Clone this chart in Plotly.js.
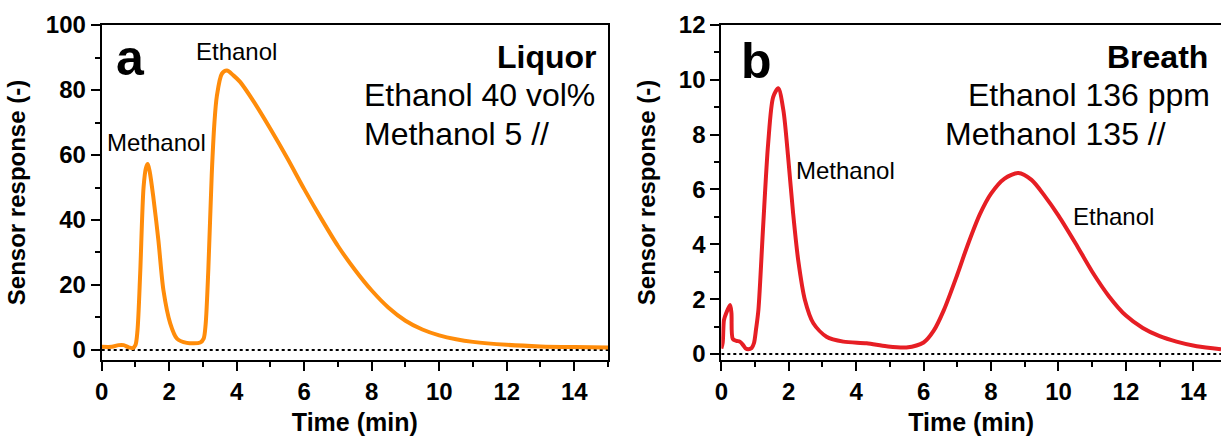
<!DOCTYPE html>
<html>
<head>
<meta charset="utf-8">
<script src="https://cdn.plot.ly/plotly-3.0.1.min.js"></script>
<style>html,body{margin:0;padding:0;background:#fff;}</style>
</head>
<body>
<div id="chart" style="width:1221px;height:436px;"></div>
<script>
// Panel a: Liquor
const liquorTime = [0, 0.3, 0.5, 0.65, 0.8, 0.92, 1.0, 1.06, 1.14, 1.24, 1.31, 1.365, 1.42, 1.53, 1.68, 1.83, 2.03, 2.23, 2.52, 2.92, 3.02, 3.08, 3.16, 3.26, 3.34, 3.41, 3.56, 3.71, 3.9, 4.1, 4.5, 5.0, 5.5, 6.0, 6.5, 7.0, 7.5, 8.0, 8.5, 9.0, 9.5, 10.0, 10.5, 11.0, 12.0, 13.0, 14.0, 15.0];
const liquorResp = [1.0, 1.0, 1.5, 1.5, 0.8, 0.6, 1.5, 6, 23.5, 50, 56, 57.2, 55, 47, 33.7, 18.3, 8.2, 3.5, 2.2, 2.3, 3.5, 8, 25, 54, 70, 78, 85, 86, 84.5, 82.5, 76.5, 68, 59, 49.5, 40.5, 32, 24.7, 18.3, 13, 9.0, 6.3, 4.5, 3.3, 2.5, 1.6, 1.1, 0.9, 0.8];

// Panel b: Breath
const breathTime = [0, 0.04, 0.08, 0.15, 0.26, 0.30, 0.34, 0.45, 0.55, 0.65, 0.72, 0.80, 0.90, 0.97, 1.03, 1.10, 1.24, 1.39, 1.54, 1.69, 1.84, 1.99, 2.13, 2.28, 2.48, 2.73, 3.12, 3.62, 4.31, 4.9, 5.49, 6.0, 6.3, 6.6, 7.0, 7.3, 7.67, 8.0, 8.4, 8.81, 9.2, 9.6, 10.0, 10.5, 11.0, 11.5, 12.0, 12.5, 13.0, 13.5, 14.1, 14.82];
const breathResp = [0.2, 0.4, 1.24, 1.5, 1.79, 1.5, 0.55, 0.48, 0.45, 0.32, 0.2, 0.17, 0.22, 0.4, 0.9, 1.6, 4.64, 7.68, 9.38, 9.69, 8.9, 7.07, 5.13, 3.43, 1.97, 1.12, 0.63, 0.45, 0.39, 0.28, 0.24, 0.42, 0.85, 1.6, 2.9, 3.95, 5.1, 5.85, 6.4, 6.6, 6.35, 5.75, 5.05, 4.05, 3.0, 2.1, 1.4, 0.95, 0.65, 0.45, 0.28, 0.17];

const xTitle = "Time (min)";
const yTitle = "Sensor response (-)";

const W = 1221, H = 436, T = 25, B = 76;
const px = v => v / W;
const py = v => (H - B - v) / (H - T - B);

const FONT = "Liberation Sans, Arial, sans-serif";
const titleFont = {family: FONT, size: 24, color: "#000", weight: "bold"};

function axisBase(extra) {
  return Object.assign({
    showline: true, linewidth: 2, linecolor: "#000",
    ticks: "outside", ticklen: 9, tickwidth: 2, tickcolor: "#000",
    showgrid: false, zeroline: false,
    tickfont: {family: FONT, size: 24, color: "#000", weight: "bold"},
    minor: {ticks: "outside", ticklen: 5, tickwidth: 2, tickcolor: "#000", showgrid: false}
  }, extra);
}

const traces = [
  {x: liquorTime, y: liquorResp, xaxis: "x", yaxis: "y", mode: "lines",
   line: {color: "#ff8c0a", width: 4, shape: "spline", smoothing: 0.8}, hoverinfo: "skip"},
  {x: breathTime, y: breathResp, xaxis: "x2", yaxis: "y2", mode: "lines",
   line: {color: "#e61e24", width: 4, shape: "spline", smoothing: 0.8}, hoverinfo: "skip"}
];

const xa = axisBase({domain: [px(101.7), px(608)], range: [0, 15], tick0: 0, dtick: 2, anchor: "y", mirror: true});
xa.minor.dtick = 1;
xa.title = {text: xTitle, standoff: 12, font: Object.assign({}, titleFont, {size: 25})};
const ya = axisBase({domain: [0, 1], range: [-3.08, 100], tick0: 0, dtick: 20, anchor: "x", mirror: true});
ya.minor.dtick = 10;
ya.title = {text: yTitle, standoff: 13, font: titleFont};
const xb = axisBase({domain: [px(721.3), 1], range: [0, 14.82], tick0: 0, dtick: 2, anchor: "y2", mirror: true});
xb.minor.dtick = 1;
xb.title = {text: xTitle, standoff: 12, font: Object.assign({}, titleFont, {size: 25})};
const yb = axisBase({domain: [0, 1], range: [-0.22, 12], tick0: 0, dtick: 2, anchor: "x2", mirror: false});
yb.minor.dtick = 1;
yb.title = {text: yTitle, standoff: 16, font: titleFont};

function ann(text, x, y, size, bold, xanchor) {
  return {text: text, xref: "paper", yref: "paper", x: px(x), y: py(y),
    xanchor: xanchor || "center", yanchor: "middle", showarrow: false,
    font: {family: FONT, size: size, color: "#000", weight: bold ? "bold" : "normal"}};
}

const annotations = [
  ann("a", 114, 58, 50, true, "left"),
  ann("Liquor", 599, 57, 32, true, "right"),
  ann("Ethanol 40 vol%", 362, 95, 32, false, "left"),
  ann("Methanol 5 //", 362, 134, 32, false, "left"),
  ann("Methanol", 156.5, 142, 24, false, "center"),
  ann("Ethanol", 236, 51, 24, false, "center"),
  ann("b", 739, 61, 50, true, "left"),
  ann("Breath", 1210, 57, 32, true, "right"),
  ann("Ethanol 136 ppm", 966, 95, 32, false, "left"),
  ann("Methanol 135 //", 943, 134, 32, false, "left"),
  ann("Methanol", 794, 171, 24, false, "left"),
  ann("Ethanol", 1071, 216, 24, false, "left")
];

const shapes = [
  {type: "line", xref: "x", yref: "y", x0: 0, x1: 15, y0: 0, y1: 0, layer: "below",
   line: {color: "#000", width: 2, dash: "dot"}},
  {type: "line", xref: "x2", yref: "y2", x0: 0, x1: 14.82, y0: 0, y1: 0, layer: "below",
   line: {color: "#000", width: 2, dash: "dot"}}
];

const layout = {
  width: W, height: H,
  margin: {l: 0, r: 0, t: T, b: B, pad: 0},
  paper_bgcolor: "#fff", plot_bgcolor: "#fff",
  showlegend: false,
  font: {family: FONT, color: "#000"},
  xaxis: xa, yaxis: ya, xaxis2: xb, yaxis2: yb,
  annotations: annotations, shapes: shapes
};

Plotly.newPlot("chart", traces, layout, {staticPlot: true, displayModeBar: false});
</script>
</body>
</html>
